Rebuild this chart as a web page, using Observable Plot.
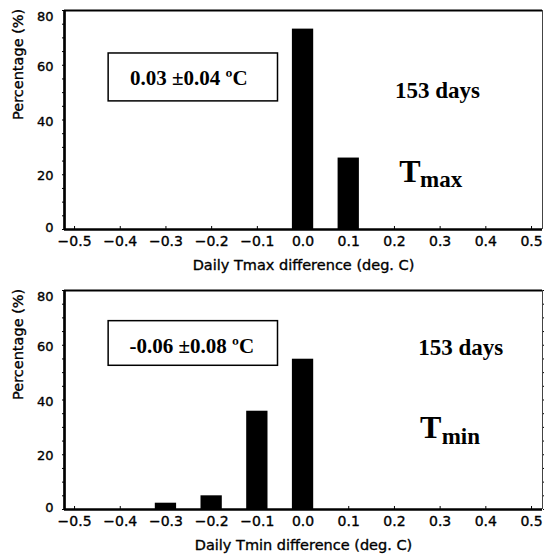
<!DOCTYPE html>
<html><head><meta charset="utf-8">
<script src="https://cdn.jsdelivr.net/npm/d3@7"></script>
<script src="https://cdn.jsdelivr.net/npm/@observablehq/plot@0.6"></script>
<style>
body{margin:0;background:#fff;}
#chart svg{display:block;}
</style></head><body><div id="chart"></div>
<script>
// ---- data ----
const xTicks = [-0.5, -0.4, -0.3, -0.2, -0.1, 0.0, 0.1, 0.2, 0.3, 0.4, 0.5];
const xTickLabels = ["−0.5","−0.4","−0.3","−0.2","−0.1","0.0","0.1","0.2","0.3","0.4","0.5"];
const yTicks = [0, 20, 40, 60, 80];
const yMinorTicks = [0,5,10,15,20,25,30,35,40,45,50,55,60,65,70,75,80];
const tmaxBins = [0.0, 0.1];
const tmaxPct = [73.2, 26.1];
const tminBins = [-0.3, -0.2, -0.1, 0.0];
const tminPct = [2.3, 5.0, 35.9, 54.9];
const xDomain = [-0.522, 0.524];
const yDomain = [0, 80];

const tmaxData = tmaxBins.map((x, i) => ({x, pct: tmaxPct[i]}));
const tminData = tminBins.map((x, i) => ({x, pct: tminPct[i]}));

const serif = "'Liberation Serif','Times New Roman',serif";
const halfBar = 0.0233;
const sansBold = {stroke: "black", strokeWidth: 0.35, fill: "black"};

function panel({data, height, xTitle, stat, statX, statY, box, daysX, daysY, tX, tY, subText, subX, subY, rightTicks}) {
  const marks = [
    Plot.rectY(data, {x1: d => d.x - halfBar, x2: d => d.x + halfBar, y: "pct", fill: "black"}),
    // inward x ticks
    Plot.ruleX(xTicks, {x: d => d, y1: 0, y2: 1.1, stroke: "black", strokeWidth: 1}),
    // outward y ticks (left)
    Plot.axisY({ticks: yMinorTicks, tickSize: 2, text: null, label: null}),
    // x tick labels
    Plot.text(xTicks, {x: d => d, y: yDomain[0], dy: 12, text: (d, i) => xTickLabels[i], fontSize: 14, ...sansBold}),
    // y tick labels
    Plot.text(yTicks.filter(d => d === 80), {x: xDomain[0], y: d => d, dx: -11, dy: 6, textAnchor: "end", fontSize: 13, ...sansBold}),
    Plot.text(yTicks.filter(d => d > 0 && d < 80), {x: xDomain[0], y: d => d, dx: -11, dy: 1.5, textAnchor: "end", fontSize: 13, ...sansBold}),
    Plot.text(yTicks.filter(d => d === 0), {x: xDomain[0], y: d => d, dx: -11, dy: -2, textAnchor: "end", fontSize: 13, ...sansBold}),
    // frame
    Plot.ruleY([yDomain[1]], {stroke: "black", strokeWidth: 2}),
    Plot.ruleX([xDomain[1]], {stroke: "#444", strokeWidth: 1}),
    Plot.ruleX([xDomain[0]], {stroke: "black", strokeWidth: 2.7}),
    Plot.ruleY([0], {stroke: "black", strokeWidth: 2.7}),
    // titles
    Plot.text([xTitle], {frameAnchor: "bottom", dy: 40, lineAnchor: "bottom", fontSize: 14.5, ...sansBold}),
    Plot.text(["Percentage (%)"], {frameAnchor: "left", dx: -46, rotate: -90, fontSize: 14.5, ...sansBold}),
    // annotations
    Plot.rect([0], {x1: box[0], x2: box[1], y1: box[2], y2: box[3], fill: "none", stroke: "black", strokeWidth: 1.5}),
    Plot.text([stat], {x: statX, y: statY, textAnchor: "middle", lineAnchor: "bottom", fontFamily: serif, fontWeight: "bold", fontSize: 21}),
    Plot.text(["153 days"], {x: daysX, y: daysY, textAnchor: "start", lineAnchor: "bottom", fontFamily: serif, fontWeight: "bold", fontSize: 23}),
    Plot.text(["T"], {x: tX, y: tY, textAnchor: "start", lineAnchor: "bottom", fontFamily: serif, fontWeight: "bold", fontSize: 32}),
    Plot.text([subText], {x: subX, y: subY, textAnchor: "start", lineAnchor: "bottom", fontFamily: serif, fontWeight: "bold", fontSize: 23})
  ];
  if (rightTicks) marks.push(Plot.axisY({anchor: "right", ticks: yMinorTicks, tickSize: 2, text: null, label: null}));
  return Plot.plot({
    width: 544, height,
    marginLeft: 64, marginRight: 2, marginTop: 10, marginBottom: height - 229,
    x: {domain: xDomain, axis: null},
    y: {domain: yDomain},
    style: {fontFamily: "'DejaVu Sans', sans-serif", fontSize: "13px", color: "black", background: "white"},
    marks
  });
}

const chart = document.getElementById("chart");
chart.append(panel({
  data: tmaxData, height: 280, xTitle: "Daily Tmax difference (deg. C)",
  stat: "0.03 ±0.04 ºC", statX: -0.25, statY: 52.9, box: [-0.4254, -0.0548, 46.8, 64.3],
  daysX: 0.2011, daysY: 48.0, tX: 0.2105, tY: 17.3, subText: "max", subX: 0.2559, subY: 15.5, rightTicks: false
}));
chart.append(panel({
  data: tminData, height: 276, xTitle: "Daily Tmin difference (deg. C)",
  stat: "-0.06 ±0.08 ºC", statX: -0.2434, statY: 57.0, box: [-0.4254, -0.0548, 52.5, 68.8],
  daysX: 0.2522, daysY: 56.4, tX: 0.2559, tY: 26.2, subText: "min", subX: 0.3033, subY: 23.9, rightTicks: true
}));
</script></body></html>
